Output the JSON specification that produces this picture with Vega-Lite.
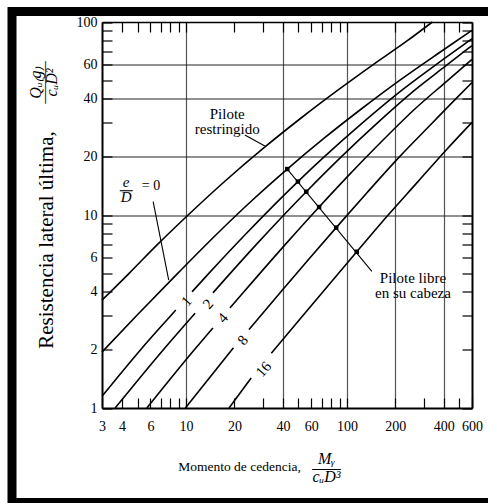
{
  "$schema": "https://vega.github.io/schema/vega-lite/v6.json",
  "width": 476,
  "height": 491,
  "autosize": {"type": "none"},
  "padding": {"left": 12, "top": 11.5, "right": 0, "bottom": 0},
  "background": "white",
  "view": {"stroke": "black", "strokeWidth": 9, "strokeDash": [476, 491, 2000], "fill": "white"},
  "config": {
    "axis": {
      "domainColor": "black", "domainWidth": 2,
      "tickColor": "black", "tickWidth": 1.2, "tickSize": -10,
      "labelFont": "Liberation Serif", "labelFontSize": 14, "labelColor": "black",
      "labelOverlap": false, "labelFlush": false,
      "titleFont": "Liberation Serif", "titleColor": "black", "titleFontWeight": "normal"
    },
    "text": {"font": "Liberation Serif", "color": "black"}
  },
  "datasets": {
    "curves": [
      {"g": "R", "M": 3, "Q": 3.62}, {"g": "R", "M": 4.44, "Q": 5}, {"g": "R", "M": 6.6, "Q": 7}, {"g": "R", "M": 10.3, "Q": 10}, {"g": "R", "M": 17.5, "Q": 15}, {"g": "R", "M": 29.9, "Q": 22}, {"g": "R", "M": 52.4, "Q": 32}, {"g": "R", "M": 90, "Q": 45}, {"g": "R", "M": 145, "Q": 60}, {"g": "R", "M": 237.8, "Q": 80}, {"g": "R", "M": 340, "Q": 100},
      {"g": "0", "M": 3, "Q": 1.95}, {"g": "0", "M": 5, "Q": 3.05}, {"g": "0", "M": 8.9, "Q": 5}, {"g": "0", "M": 15.6, "Q": 8}, {"g": "0", "M": 26, "Q": 12}, {"g": "0", "M": 42.6, "Q": 17.3}, {"g": "0", "M": 72.2, "Q": 25}, {"g": "0", "M": 120.6, "Q": 35}, {"g": "0", "M": 213.9, "Q": 50}, {"g": "0", "M": 377.2, "Q": 69.5}, {"g": "0", "M": 600, "Q": 90.5},
      {"g": "1a", "M": 3, "Q": 1.15}, {"g": "1a", "M": 5.2, "Q": 2}, {"g": "1a", "M": 8.0, "Q": 3}, {"g": "1a", "M": 8.63, "Q": 3.22},
      {"g": "1b", "M": 10.89, "Q": 4}, {"g": "1b", "M": 13.9, "Q": 5}, {"g": "1b", "M": 23.6, "Q": 8}, {"g": "1b", "M": 49.6, "Q": 14.9}, {"g": "1b", "M": 72.2, "Q": 20}, {"g": "1b", "M": 125, "Q": 30}, {"g": "1b", "M": 225, "Q": 45}, {"g": "1b", "M": 397.2, "Q": 64}, {"g": "1b", "M": 600, "Q": 82},
      {"g": "2a", "M": 3.62, "Q": 1}, {"g": "2a", "M": 7.2, "Q": 2}, {"g": "2a", "M": 11.38, "Q": 3.1},
      {"g": "2b", "M": 14.69, "Q": 3.95}, {"g": "2b", "M": 27.2, "Q": 7}, {"g": "2b", "M": 55.9, "Q": 13.2}, {"g": "2b", "M": 92.2, "Q": 20}, {"g": "2b", "M": 155, "Q": 30}, {"g": "2b", "M": 270, "Q": 45}, {"g": "2b", "M": 410, "Q": 59}, {"g": "2b", "M": 600, "Q": 75.5},
      {"g": "4a", "M": 5.7, "Q": 1}, {"g": "4a", "M": 11.22, "Q": 2}, {"g": "4a", "M": 14.68, "Q": 2.6},
      {"g": "4b", "M": 18.76, "Q": 3.3}, {"g": "4b", "M": 22.9, "Q": 4}, {"g": "4b", "M": 41.2, "Q": 7}, {"g": "4b", "M": 67.2, "Q": 11}, {"g": "4b", "M": 102.2, "Q": 16}, {"g": "4b", "M": 172.2, "Q": 25}, {"g": "4b", "M": 260.6, "Q": 35}, {"g": "4b", "M": 413.9, "Q": 49}, {"g": "4b", "M": 600, "Q": 64},
      {"g": "8a", "M": 9.9, "Q": 1}, {"g": "8a", "M": 19.71, "Q": 2.05},
      {"g": "8b", "M": 24.59, "Q": 2.55}, {"g": "8b", "M": 38.9, "Q": 4}, {"g": "8b", "M": 59, "Q": 6}, {"g": "8b", "M": 85.8, "Q": 8.6}, {"g": "8b", "M": 132.9, "Q": 13}, {"g": "8b", "M": 212.2, "Q": 20}, {"g": "8b", "M": 335, "Q": 29.6}, {"g": "8b", "M": 468.9, "Q": 39.5}, {"g": "8b", "M": 600, "Q": 48.6},
      {"g": "16a", "M": 18.5, "Q": 1}, {"g": "16a", "M": 25.4, "Q": 1.43},
      {"g": "16b", "M": 33.9, "Q": 1.92}, {"g": "16b", "M": 53, "Q": 3}, {"g": "16b", "M": 79.9, "Q": 4.5}, {"g": "16b", "M": 115.2, "Q": 6.45}, {"g": "16b", "M": 180.6, "Q": 10}, {"g": "16b", "M": 275, "Q": 14.8}, {"g": "16b", "M": 411.9, "Q": 21.6}, {"g": "16b", "M": 600, "Q": 30.2}
    ],
    "dots": [
      {"M": 42.6, "Q": 17.3}, {"M": 49.6, "Q": 14.9}, {"M": 55.9, "Q": 13.2}, {"M": 67.2, "Q": 11}, {"M": 85.8, "Q": 8.6}, {"M": 115.2, "Q": 6.45}
    ],
    "leaders": [
      {"g": "restr", "M": 23.2, "Q": 26.0}, {"g": "restr", "M": 30.9, "Q": 22.8},
      {"g": "e0", "M": 6.24, "Q": 11.72}, {"g": "e0", "M": 7.8, "Q": 4.6},
      {"g": "libre", "M": 42.6, "Q": 17.3}, {"g": "libre", "M": 143, "Q": 5.1},
      {"g": "bar", "M": 3.87, "Q": 13.36}, {"g": "bar", "M": 4.66, "Q": 13.36}
    ],
    "curvelabels": [
      {"M": 10.04, "Q": 3.58, "t": "1"}, {"M": 13.66, "Q": 3.46, "t": "2"}, {"M": 16.9, "Q": 2.93, "t": "4"}, {"M": 22.5, "Q": 2.25, "t": "8"}, {"M": 30.3, "Q": 1.59, "t": "16"}
    ],
    "notes": [
      {"M": 18.04, "Q": 31.6, "t": ["Pilote", "restringido"]},
      {"M": 257.7, "Q": 4.45, "t": ["Pilote libre", "en su cabeza"]}
    ],
    "ed_italic": [
      {"M": 4.24, "Q": 13.97, "t": "e"}, {"M": 4.24, "Q": 11.68, "t": "D"}
    ],
    "ed_eq": [
      {"M": 5.3, "Q": 13.48, "t": "= 0"}
    ]
  },
  "layer": [
    {
      "data": {"name": "curves"},
      "mark": {"type": "line", "color": "black", "strokeWidth": 1.6, "interpolate": "monotone"},
      "encoding": {
        "x": {
          "field": "M", "type": "quantitative",
          "scale": {"type": "log", "domain": [3, 600], "range": [90, 460], "nice": false},
          "axis": {
            "orient": "top", "offset": -10.5,
            "values": [4, 5, 6, 7, 8, 9, 10, 20, 30, 40, 50, 60, 70, 80, 90, 100, 200, 300, 400, 500],
            "labels": false, "grid": true,
            "gridOpacity": {"condition": {"test": "indexof([10,40,100,200,400], datum.value) >= 0", "value": 1}, "value": 0},
            "gridColor": "#555", "gridWidth": 1.2, "domainWidth": 1.5,
            "title": ["Mᵧ", "——", " ", "cᵤD³"],
            "titleFont": "Liberation Serif",
            "titleFontStyle": "italic", "titleFontSize": 16, "titleLineHeight": 9,
            "titleX": 314, "titleY": 441, "titleAlign": "center", "titleBaseline": "alphabetic", "titleAngle": 0
          }
        },
        "y": {
          "field": "Q", "type": "quantitative",
          "scale": {"type": "log", "domain": [1, 100], "range": [396.5, 10.5], "nice": false},
          "axis": {
            "orient": "left", "offset": -90,
            "values": [1, 2, 3, 4, 5, 6, 7, 8, 9, 10, 20, 30, 40, 50, 60, 70, 80, 90, 100],
            "grid": true,
            "gridOpacity": {"condition": {"test": "indexof([10,20,40,60], datum.value) >= 0", "value": 1}, "value": 0},
            "gridColor": "#222", "gridWidth": 1,
            "labelFont": "Liberation Serif",
            "labelExpr": "indexof([1,2,4,6,10,20,40,60,100], datum.value) >= 0 ? '' + datum.value : ''",
            "labelPadding": 15,
            "title": "Resistencia lateral última,",
            "titleFont": "Liberation Serif",
            "titleAngle": 270, "titleFontSize": 21,
            "titleX": -50, "titleY": 228, "titleAlign": "center", "titleBaseline": "alphabetic"
          }
        },
        "detail": {"field": "g"}
      }
    },
    {
      "data": {"name": "dots"},
      "mark": {"type": "point", "shape": "square", "filled": true, "color": "black", "size": 20, "opacity": 1},
      "encoding": {
        "x": {
          "field": "M", "type": "quantitative",
          "scale": {"type": "log", "domain": [3, 600], "range": [90, 460], "nice": false},
          "axis": {
            "orient": "bottom", "offset": -94.5,
            "values": [3, 4, 5, 6, 7, 8, 9, 10, 20, 30, 40, 50, 60, 70, 80, 90, 100, 200, 300, 400, 500, 600],
            "grid": false,
            "labelFont": "Liberation Serif",
            "labelExpr": "indexof([3,4,6,10,20,40,60,100,200,400,600], datum.value) >= 0 ? '' + datum.value : ''",
            "labelPadding": 21,
            "title": "Momento de cedencia,",
            "titleFont": "Liberation Serif",
            "titleFontSize": 13.5,
            "titleX": 227, "titleY": 62, "titleAlign": "center", "titleBaseline": "alphabetic", "titleAngle": 0
          }
        },
        "y": {
          "field": "Q", "type": "quantitative",
          "scale": {"type": "log", "domain": [1, 100], "range": [396.5, 10.5], "nice": false},
          "axis": {
            "orient": "right", "offset": -16,
            "values": [1, 2, 3, 4, 5, 6, 7, 8, 9, 10, 20, 30, 40, 50, 60, 70, 80, 90, 100],
            "grid": false, "labels": false,
            "title": ["Qᵤ₍g₎", "———", "cᵤD²"],
            "titleFont": "Liberation Serif",
            "titleAngle": 270, "titleFontStyle": "italic", "titleFontSize": 16, "titleLineHeight": 8,
            "titleX": -432, "titleY": 70.5, "titleAlign": "center", "titleBaseline": "alphabetic"
          }
        }
      }
    },
    {
      "data": {"name": "leaders"},
      "mark": {"type": "line", "color": "black", "strokeWidth": 1.1},
      "encoding": {
        "x": {"field": "M", "type": "quantitative", "scale": {"type": "log", "domain": [3, 600], "range": [90, 460], "nice": false}, "axis": null},
        "y": {"field": "Q", "type": "quantitative", "scale": {"type": "log", "domain": [1, 100], "range": [396.5, 10.5], "nice": false}, "axis": null},
        "detail": {"field": "g"}
      }
    },
    {
      "data": {"name": "curvelabels"},
      "mark": {"type": "text", "font": "Liberation Serif", "fontSize": 15, "angle": 311, "align": "center", "baseline": "middle"},
      "encoding": {
        "x": {"field": "M", "type": "quantitative", "scale": {"type": "log", "domain": [3, 600], "range": [90, 460], "nice": false}, "axis": null},
        "y": {"field": "Q", "type": "quantitative", "scale": {"type": "log", "domain": [1, 100], "range": [396.5, 10.5], "nice": false}, "axis": null},
        "text": {"field": "t"}
      }
    },
    {
      "data": {"name": "notes"},
      "mark": {"type": "text", "font": "Liberation Serif", "fontSize": 15, "lineHeight": 15, "align": "center", "baseline": "alphabetic"},
      "encoding": {
        "x": {"field": "M", "type": "quantitative", "scale": {"type": "log", "domain": [3, 600], "range": [90, 460], "nice": false}, "axis": null},
        "y": {"field": "Q", "type": "quantitative", "scale": {"type": "log", "domain": [1, 100], "range": [396.5, 10.5], "nice": false}, "axis": null},
        "text": {"field": "t"}
      }
    },
    {
      "data": {"name": "ed_italic"},
      "mark": {"type": "text", "font": "Liberation Serif", "fontSize": 15, "fontStyle": "italic", "align": "center", "baseline": "alphabetic"},
      "encoding": {
        "x": {"field": "M", "type": "quantitative", "scale": {"type": "log", "domain": [3, 600], "range": [90, 460], "nice": false}, "axis": null},
        "y": {"field": "Q", "type": "quantitative", "scale": {"type": "log", "domain": [1, 100], "range": [396.5, 10.5], "nice": false}, "axis": null},
        "text": {"field": "t"}
      }
    },
    {
      "data": {"name": "ed_eq"},
      "mark": {"type": "text", "font": "Liberation Serif", "fontSize": 14, "align": "left", "baseline": "alphabetic"},
      "encoding": {
        "x": {"field": "M", "type": "quantitative", "scale": {"type": "log", "domain": [3, 600], "range": [90, 460], "nice": false}, "axis": null},
        "y": {"field": "Q", "type": "quantitative", "scale": {"type": "log", "domain": [1, 100], "range": [396.5, 10.5], "nice": false}, "axis": null},
        "text": {"field": "t"}
      }
    }
  ],
  "resolve": {"axis": {"x": "independent", "y": "independent"}}
}
